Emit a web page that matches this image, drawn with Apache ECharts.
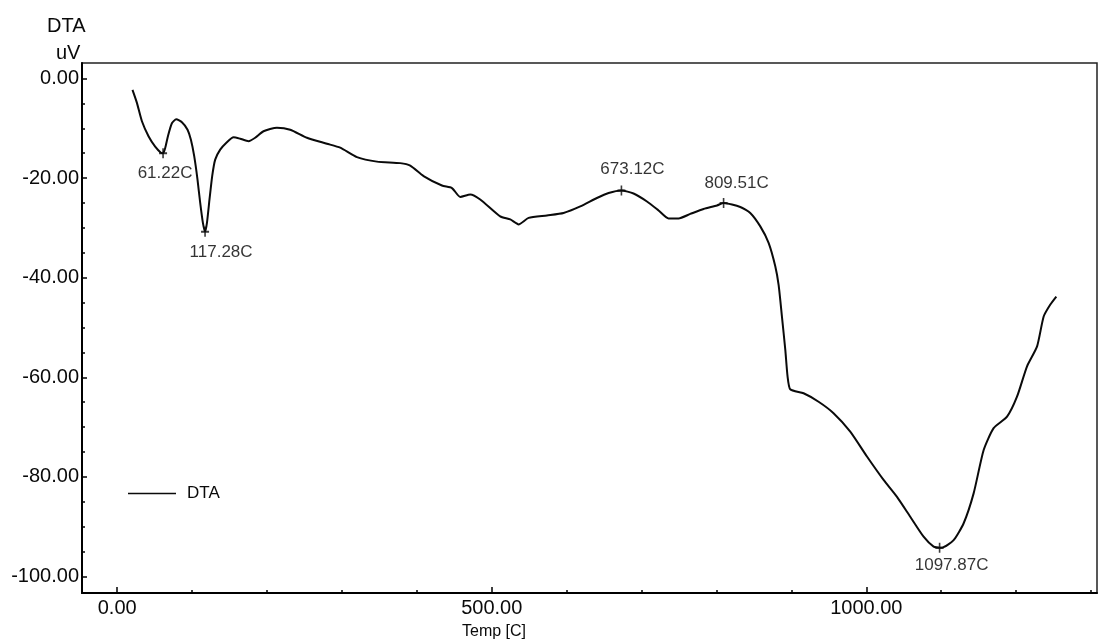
<!DOCTYPE html>
<html>
<head>
<meta charset="utf-8">
<title>DTA</title>
<script src="https://cdn.jsdelivr.net/npm/echarts@6/dist/echarts.min.js"></script>
<style>
  html, body { margin: 0; padding: 0; background: #fff; }
  #chart { width: 1099px; height: 644px; }
</style>
</head>
<body>
<div id="chart"></div>
<script>
// DTA trace: temperature (C) and signal (uV)
const tempC = [
  20.4, 26.3, 33, 41.8, 50.7, 58.3, 61.22, 64, 67.7, 73, 78.8, 86.4, 93.9, 98.4,
  102.8, 107.2, 110.8, 114.4, 117.28, 119.8, 123.2, 126.8, 130.8, 137.5, 146.4,
  155.3, 164.2, 175.3, 184.2, 195.3, 213.2, 231, 253.3, 280, 297.7, 320, 346.7,
  377.8, 391.2, 409, 433.5, 446.9, 458, 471.3, 484.6, 511.3, 524.7, 535.8, 549.2,
  573.7, 595.9, 618.2, 640.4, 656, 673.12, 689.3, 707.2, 722.7, 736, 749.4, 765,
  782.8, 800.7, 809.51, 831.8, 845.1, 858.5, 869.6, 878.5, 883, 887.4, 891.9,
  894.9, 898.5, 916.3, 936.3, 956.3, 978.6, 1000.9, 1023.1, 1041, 1058.7, 1076.5,
  1089.9, 1097.87, 1101, 1116.6, 1130, 1143.3, 1156.7, 1170, 1187.9, 1201.2,
  1214.6, 1228, 1236.8, 1245.7, 1253.7
];
const dtaUV = [
  -2.3, -4.9, -8.6, -11.6, -13.7, -14.9, -15.0, -14.0, -11.6, -9.0, -8.2, -8.8, -10.3, -12.3,
  -15.6, -20.3, -25.0, -29.0, -30.8, -29.0, -24.3, -19.6, -16.3, -14.3, -12.8,
  -11.8, -12.1, -12.6, -11.9, -10.6, -9.9, -10.3, -11.9, -13.1, -13.9, -15.8, -16.7,
  -17.0, -17.5, -19.6, -21.5, -22.0, -23.8, -23.3, -24.3, -27.7, -28.3, -29.3, -28.0,
  -27.5, -27.0, -25.7, -24.0, -23.0, -22.5, -23.1, -24.7, -26.5, -28.1, -28.1, -27.2,
  -26.2, -25.5, -25.0, -25.8, -27.0, -29.7, -33.0, -37.7, -41.5, -47.8, -54.5,
  -59.8, -62.4, -63.2, -64.9, -67.2, -70.9, -75.9, -80.6, -84.0, -88.0, -92.0,
  -94.0, -94.2, -94.2, -92.7, -89.3, -83.3, -74.6, -70.2, -67.9, -63.9,
  -57.8, -53.8, -47.8, -45.4, -43.8
];

// Peak annotations
const peakTemps = [61.22, 117.28, 673.12, 809.51, 1097.87];
const peakValues = [-15.0, -30.8, -22.5, -25.0, -94.2];
const peakLabelOffsets = [[2, 20], [16, 20], [11, -21], [13, -20], [12, 18]];

// Axis ticks
const xLabelValues = [0, 500, 1000];
const xMinorValues = [100, 200, 300, 400, 600, 700, 800, 900, 1100, 1200, 1300];
const yLabelValues = [-100, -80, -60, -40, -20, 0];
const yMinorValues = [-95, -90, -85, -75, -70, -65, -55, -50, -45, -35, -30, -25, -15, -10, -5];

const X_MIN = -47, X_MAX = 1308;
const Y_MIN = -103.3, Y_MAX = 3.1;

const FONT = '"Liberation Sans", Arial, sans-serif';
const INK = '#0a0a0a';

const lineData = tempC.map((t, i) => [t, dtaUV[i]]);
const peakData = peakTemps.map((t, i) => ({
  value: [t, peakValues[i]],
  label: { offset: peakLabelOffsets[i] }
}));

const chart = echarts.init(document.getElementById('chart'), null, { renderer: 'canvas' });

chart.setOption({
  animation: false,
  backgroundColor: '#fff',
  grid: {
    left: 82, right: 2, top: 63, bottom: 51,
    containLabel: false,
    outerBoundsMode: 'none',
    show: true,
    borderColor: '#222',
    borderWidth: 1.5,
    backgroundColor: 'transparent'
  },
  legend: {
    left: 128, top: 485, padding: 0,
    itemWidth: 48, itemHeight: 14,
    data: [{ name: 'DTA', icon: 'path://M0,0H48V1.6H0Z' }],
    selectedMode: false,
    itemStyle: { color: INK },
    textStyle: { fontFamily: FONT, fontSize: 17, color: INK, padding: [0, 0, 0, 6] }
  },
  xAxis: [
    {
      type: 'value', min: X_MIN, max: X_MAX,
      axisLine: { show: true, onZero: false, lineStyle: { color: '#000', width: 2 } },
      axisTick: { show: true, inside: true, length: 6, customValues: xLabelValues, lineStyle: { color: '#000', width: 1.5 } },
      axisLabel: {
        show: true, customValues: xLabelValues, margin: 5,
        formatter: v => v.toFixed(2),
        fontFamily: FONT, fontSize: 20, color: INK
      },
      splitLine: { show: false }
    },
    {
      type: 'value', min: X_MIN, max: X_MAX, position: 'bottom',
      axisLine: { show: false, onZero: false },
      axisTick: { show: true, inside: true, length: 3, customValues: xMinorValues, lineStyle: { color: '#000', width: 1.5 } },
      axisLabel: { show: false },
      splitLine: { show: false }
    }
  ],
  yAxis: [
    {
      type: 'value', min: Y_MIN, max: Y_MAX,
      axisLine: { show: true, onZero: false, lineStyle: { color: '#000', width: 2 } },
      axisTick: { show: true, inside: true, length: 5, customValues: yLabelValues, lineStyle: { color: '#000', width: 1.5 } },
      axisLabel: {
        show: true, customValues: yLabelValues, margin: 3,
        formatter: v => v.toFixed(2),
        fontFamily: FONT, fontSize: 20, color: INK
      },
      splitLine: { show: false }
    },
    {
      type: 'value', min: Y_MIN, max: Y_MAX, position: 'left',
      axisLine: { show: false, onZero: false },
      axisTick: { show: true, inside: true, length: 3, customValues: yMinorValues, lineStyle: { color: '#000', width: 1.5 } },
      axisLabel: { show: false },
      splitLine: { show: false }
    }
  ],
  series: [
    {
      name: 'DTA',
      type: 'line',
      data: lineData,
      symbol: 'none',
      smooth: 0.2,
      lineStyle: { color: INK, width: 2 },
      itemStyle: { color: INK },
      z: 3
    },
    {
      name: 'peaks',
      type: 'scatter',
      data: peakData,
      symbol: 'path://M4,0H6V10H4ZM0,4H10V6H0Z',
      symbolSize: [8, 10],
      itemStyle: { color: INK },
      label: {
        show: true,
        position: 'inside',
        formatter: p => p.value[0].toFixed(2) + 'C',
        fontFamily: FONT, fontSize: 17, color: '#000'
      },
      z: 4
    }
  ],
  graphic: [
    { type: 'text', left: 47, top: 16, style: { text: 'DTA', font: '20px ' + FONT, fill: INK } },
    { type: 'text', left: 56, top: 43, style: { text: 'uV', font: '20px ' + FONT, fill: INK } },
    { type: 'text', left: 462, top: 624, style: { text: 'Temp [C]', font: '16px ' + FONT, fill: INK } }
  ]
});
</script>
</body>
</html>
